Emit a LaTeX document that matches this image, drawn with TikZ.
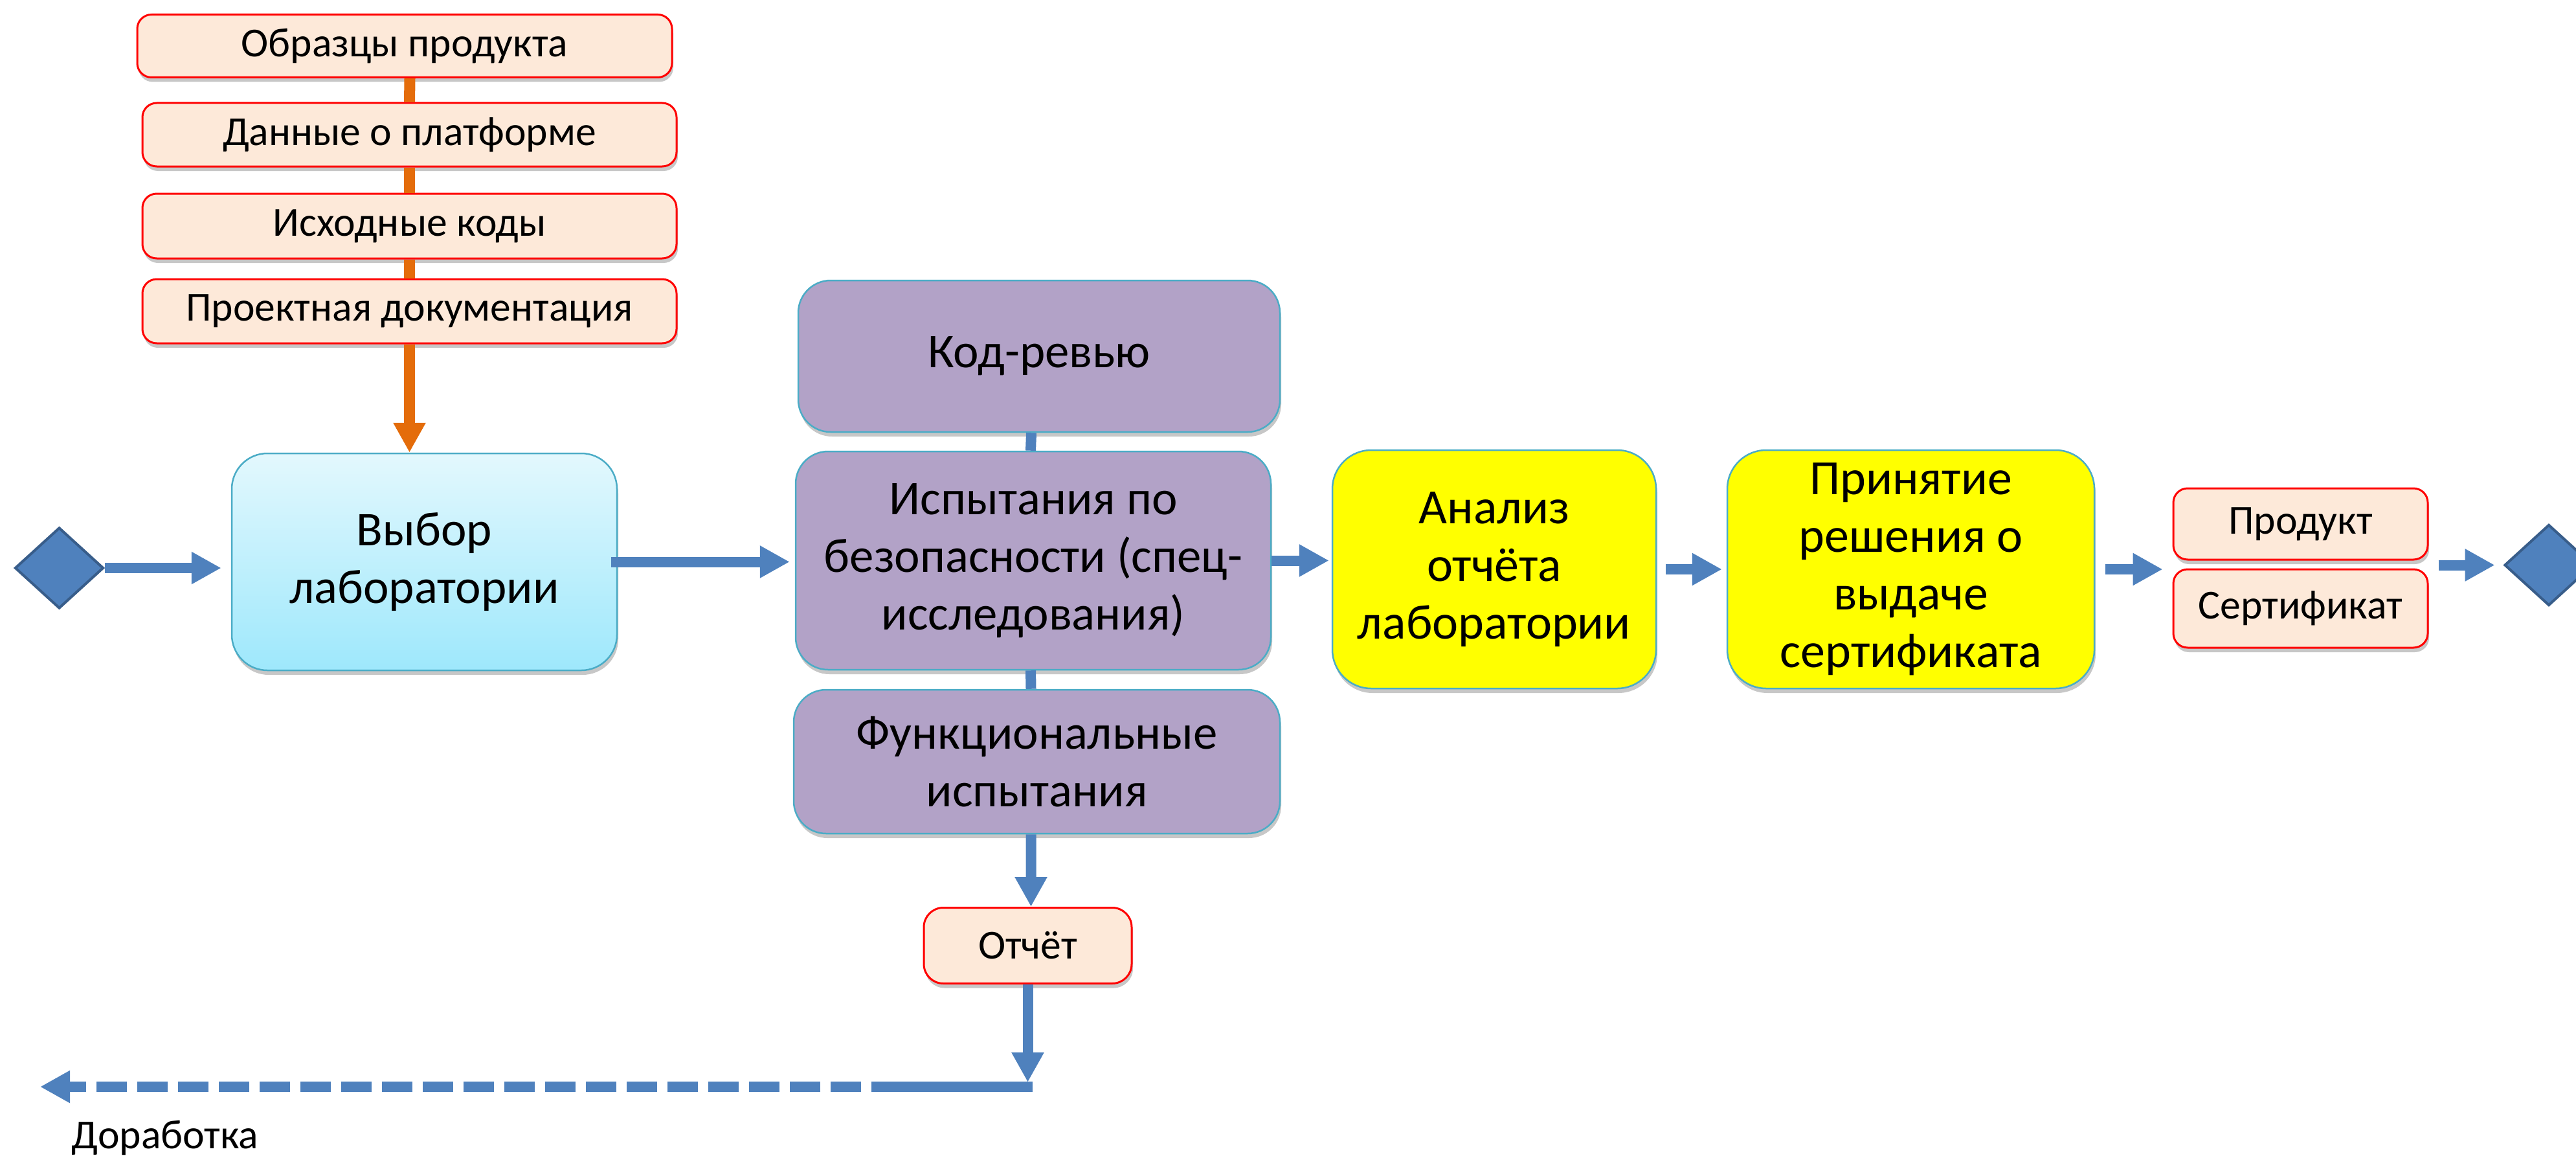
\documentclass[tikz,border=0pt]{standalone}
\usepackage{fontspec}
\setmainfont{Carlito}
\usetikzlibrary{arrows.meta,shapes.geometric,shadows}
\definecolor{flowblue}{HTML}{4F81BD}
\definecolor{diaborder}{HTML}{385D8A}
\definecolor{peach}{HTML}{FDE9D9}
\definecolor{lilac}{HTML}{B2A2C7}
\definecolor{cyanborder}{HTML}{4BACC6}
\definecolor{orangeline}{HTML}{E46C0A}
\definecolor{cyantop}{HTML}{E3F8FD}
\definecolor{cyanbot}{HTML}{9EE8FC}
\definecolor{brightyellow}{HTML}{FFFF00}
\tikzset{
  shadowed/.style={drop shadow={shadow xshift=0.02cm, shadow yshift=-0.07cm, opacity=0.22, fill=black}},
  inbox/.style={draw=red, line width=0.03cm, fill=peach, rounded corners=0.22cm,
    font=\fontsize{18.1}{21.5}\selectfont, inner sep=0, shadowed},
  bigbox/.style={draw=cyanborder, line width=0.025cm, align=center, inner sep=0,
    font=\fontsize{21.3}{25.3}\selectfont, shadowed},
  purplebox/.style={bigbox, fill=lilac, rounded corners=0.5cm},
  yellowbox/.style={bigbox, fill=brightyellow, rounded corners=0.6cm,
    font=\fontsize{21.6}{25.3}\selectfont},
  cyanbox/.style={bigbox, top color=cyantop, bottom color=cyanbot, rounded corners=0.55cm},
  gate/.style={diamond, draw=diaborder, line width=0.04cm, fill=flowblue,
    minimum width=1.37cm, minimum height=1.25cm, inner sep=0},
  flow/.style={draw=flowblue, line width=0.16cm},
  flowarr/.style={flow, -{Triangle[width=0.47cm,length=0.46cm]}},
  flowdash/.style={flowarr, dash pattern=on 0.47cm off 0.16cm},
  orflow/.style={draw=orangeline, line width=0.17cm},
  orarr/.style={orflow, -{Triangle[width=0.47cm,length=0.46cm]}},
  lbl/.style={font=\fontsize{18.1}{21.5}\selectfont, inner sep=0}
}
\begin{document}
\begin{tikzpicture}
\useasboundingbox (0,0) rectangle (39.79,-17.87);

% input documents
\node[inbox, minimum width=8.26cm, minimum height=0.97cm] (s1) at (6.25,-0.71) {Образцы продукта};
\node[inbox, minimum width=8.25cm, minimum height=0.98cm] (s2) at (6.325,-2.08) {Данные о платформе};
\node[inbox, minimum width=8.25cm, minimum height=1.00cm] (s3) at (6.325,-3.49) {Исходные коды};
\node[inbox, minimum width=8.25cm, minimum height=0.99cm] (s4) at (6.325,-4.805) {Проектная документация};

% main flow
\node[gate] (d1) at (0.915,-8.77) {};
\node[cyanbox, minimum width=5.95cm, minimum height=3.35cm] (vybor) at (6.555,-8.675) {Выбор\\лаборатории};
\node[purplebox, minimum width=7.44cm, minimum height=2.34cm] (kod) at (16.05,-5.5) {Код-ревью};
\node[purplebox, minimum width=7.34cm, minimum height=3.37cm] (isp) at (15.96,-8.655) {Испытания по\\безопасности (спец-\\исследования)};
\node[purplebox, minimum width=7.51cm, minimum height=2.22cm] (func) at (16.015,-11.76) {Функциональные\\испытания};
\node[inbox, minimum width=3.21cm, minimum height=1.17cm, rounded corners=0.3cm] (otchet) at (15.875,-14.6) {Отчёт};
\node[yellowbox, minimum width=5.0cm, minimum height=3.68cm] (anal) at (23.08,-8.79) {Анализ\\отчёта\\лаборатории};
\node[yellowbox, minimum width=5.67cm, minimum height=3.68cm] (prin) at (29.515,-8.79) {Принятие\\решения о\\выдаче\\сертификата};
\node[inbox, minimum width=3.93cm, minimum height=1.10cm] (prod) at (35.535,-8.09) {Продукт};
\node[inbox, minimum width=3.93cm, minimum height=1.21cm] (sert) at (35.535,-9.395) {Сертификат};
\node[gate] (d2) at (39.37,-8.725) {};

% orange input chain
\draw[orflow] ([xshift=0.08cm]s1.south) -- (s2.north);
\draw[orflow] (s2.south) -- (s3.north);
\draw[orflow] (s3.south) -- (s4.north);
\draw[orarr] (s4.south) -- (s4.south |- vybor.north);

% blue flow arrows
\draw[flowarr] (d1.east) -- ([xshift=-0.15cm]vybor.west |- d1.east);
\draw[flowarr] ([xshift=-0.1cm]vybor.east) -- ([xshift=-0.08cm]isp.west |- vybor.east);
\draw[flowarr] (isp.east) -- ([xshift=-0.04cm]anal.west |- isp.east);
\draw[flowarr] ([xshift=0.14cm]anal.east) -- ([xshift=-0.07cm]prin.west);
\draw[flowarr] ([xshift=0.16cm]prin.east) -- ([xshift=-0.15cm]prod.west |- prin.east);
\draw[flowarr] ([xshift=0.15cm]prod.east |- d2.west) -- ([xshift=-0.13cm]d2.west);

% testing column
\draw[flow] ([xshift=-0.12cm]kod.south) -- ([xshift=-0.04cm]isp.north);
\draw[flow] ([xshift=-0.04cm]isp.south) -- ([xshift=-0.09cm]func.north);
\draw[flowarr] ([xshift=-0.09cm]func.south) -- ([xshift=0.05cm]otchet.north);

% rework branch
\coordinate (c1) at (15.875,-16.71);
\coordinate (hR) at (15.95,-16.78);
\coordinate (hM) at (13.93,-16.78);
\coordinate (hL) at (0.62,-16.78);
\draw[flowarr] (otchet.south) -- (c1);
\draw[flow] (hR) -- (hM);
\draw[flowdash] (hM) -- (hL);
\node[lbl] (rework) at (2.55,-17.57) {Доработка};
\end{tikzpicture}
\end{document}
